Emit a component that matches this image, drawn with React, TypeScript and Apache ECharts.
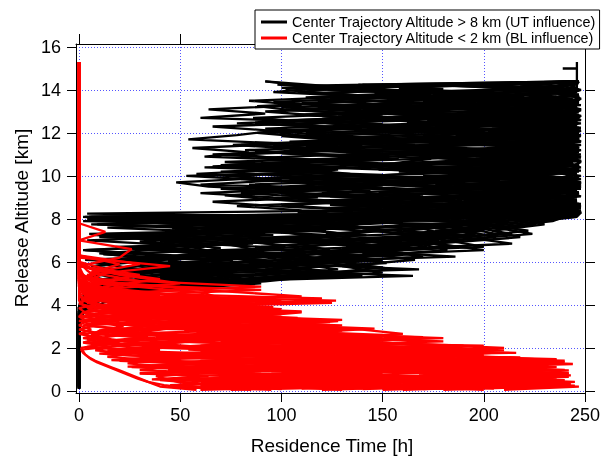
import React, { useEffect, useRef } from 'react';
import * as echarts from 'echarts';

// ---------- tick labels / names ----------
const X_TICKS = [0, 50, 100, 150, 200, 250];
const Y_TICKS = [0, 2, 4, 6, 8, 10, 12, 14, 16];
const NAME_UT = 'Center Trajectory Altitude > 8 km (UT influence)';
const NAME_BL = 'Center Trajectory Altitude < 2 km (BL influence)';

// ---------- release altitudes [km] ----------
const ALT_UT_A = [0.1, 2.0, 3.0, 3.6, 4.1, 4.5, 4.9, 5.2, 5.5, 5.8, 6.1, 6.4, 6.7, 7.0, 7.3, 7.6, 7.9,
  8.1, 8.3, 8.5, 8.7, 8.9, 9.1, 9.3, 9.5, 9.7, 9.9, 10.1, 10.3, 10.5, 10.7, 10.9, 11.1, 11.3, 11.5, 11.7, 11.9,
  12.1, 12.3, 12.5, 12.7, 12.9, 13.1, 13.3, 13.5, 13.7, 13.9, 14.1, 14.4];
const ALT_UT_B = [0.2, 2.0, 3.1, 3.7, 4.2, 4.6, 5.0, 5.35, 5.65, 5.95, 6.25, 6.55, 6.85, 7.15, 7.45, 7.75, 8.0,
  8.2, 8.4, 8.6, 8.8, 9.0, 9.2, 9.4, 9.6, 9.8, 10.0, 10.2, 10.4, 10.6, 10.8, 11.0, 11.2, 11.4, 11.6, 11.8, 12.0,
  12.2, 12.4, 12.6, 12.8, 13.0, 13.2, 13.4, 13.6, 13.8, 14.0, 14.2, 14.4];
const ALT_UT_C = [0.15, 2.0, 3.3, 3.9, 4.35, 4.75, 5.1, 5.45, 5.75, 6.05, 6.35, 6.65, 6.95, 7.25, 7.55, 7.85, 8.1,
  8.25, 8.45, 8.65, 8.85, 9.05, 9.25, 9.45, 9.65, 9.85, 10.05, 10.25, 10.45, 10.65, 10.85, 11.05, 11.25, 11.45, 11.65, 11.85, 12.05,
  12.25, 12.45, 12.65, 12.85, 13.05, 13.25, 13.45, 13.65, 13.85, 14.05, 14.25, 14.4];
const ALT_UT_TOP = [14.4, 15.0, 15.0, 15.0, 15.3];
const ALT_BL_A = [0.05, 0.2, 0.35, 0.5, 0.65, 0.8, 0.95, 1.1, 1.25, 1.4, 1.55, 1.7, 1.85, 2.0, 2.2, 2.4, 2.6, 2.8,
  3.0, 3.2, 3.4, 3.6, 3.8, 4.0, 4.2, 4.4, 4.7, 5.0, 5.4, 5.8, 6.2, 6.6, 7.0, 7.4, 7.8, 15.3];
const ALT_BL_B = [0.1, 0.27, 0.42, 0.57, 0.72, 0.87, 1.02, 1.17, 1.32, 1.47, 1.62, 1.77, 1.92, 2.1, 2.3, 2.5, 2.7, 2.9,
  3.1, 3.3, 3.5, 3.7, 3.9, 4.1, 4.3, 4.55, 4.85, 5.2, 5.6, 6.0, 6.4, 6.8, 7.2, 7.6, 8.0, 15.3];
const ALT_BL_C = [0.08, 0.24, 0.38, 0.53, 0.68, 0.83, 0.98, 1.13, 1.28, 1.43, 1.58, 1.73, 1.88, 2.05, 2.25, 2.45, 2.65, 2.85,
  3.05, 3.25, 3.45, 3.65, 3.85, 4.05, 4.25, 4.45, 4.75, 5.1, 5.5, 5.9, 6.3, 6.7, 7.1, 7.5, 7.9, 15.3];

// ---------- residence times [h], UT-influenced trajectories ----------
const UT_A1 = [0, 0, 0, 0, 2, 6, 14, 30, 22, 48, 36, 70, 55, 96, 80, 118, 100,
  238, 246, 210, 244, 190, 232, 160, 220, 248, 200, 236, 175, 226, 246, 198, 240, 150, 214, 247, 230, 186, 244, 208, 160, 236, 248, 220, 190, 244, 232, 246, 246];
const UT_A2 = [0, 0, 0, 1, 8, 20, 44, 62, 40, 86, 60, 112, 90, 140, 122, 170, 150,
  5, 220, 248, 180, 140, 206, 242, 170, 120, 196, 230, 148, 246, 212, 180, 132, 240, 204, 166, 244, 220, 126, 190, 236, 170, 140, 210, 246, 180, 150, 100, 246];
const UT_A3 = [0, 0, 0, 0, 3, 10, 25, 18, 52, 34, 76, 58, 102, 84, 130, 108, 160,
  200, 246, 180, 130, 96, 72, 110, 64, 48, 90, 58, 100, 70, 120, 62, 84, 56, 104, 54, 78, 96, 66, 130, 60, 92, 64, 110, 84, 140, 96, 120, 92];
const UT_A4 = [0, 0, 0, 2, 12, 30, 60, 92, 120, 104, 146, 128, 172, 150, 196, 176, 210,
  246, 248, 236, 247, 222, 245, 240, 248, 228, 246, 215, 244, 247, 232, 248, 238, 246, 224, 247, 242, 248, 230, 246, 244, 236, 248, 226, 245, 247, 240, null, null];
const UT_A5 = [0, 0, 0, 0, 1, 4, 10, 24, 16, 38, 28, 58, 44, 82, 66, 104, 88,
  236, 190, 150, 212, 176, 130, 228, 186, 146, 104, 170, 208, 136, 184, 236, 160, 118, 196, 152, 224, 180, 140, 204, 246, 166, 128, 190, 154, 220, 176, 138, 246];
const UT_A6 = [0, 0, 0, 0, 4, 14, 34, 80, 60, 124, 98, 150, 132, 178, 160, 200, 186,
  3, 200, 240, 216, 246, 190, 226, 244, 204, 172, 236, 247, 214, 184, 240, 226, 246, 196, 230, 248, 210, 176, 238, 246, 222, 200, 244, 230, 208, 246, 236, 247];
const UT_A7 = [0, 0, 0, 1, 6, 16, 48, 100, 150, 130, 166, 140, 184, 164, 206, 190, 220,
  244, 248, 240, 246, 236, 247, 230, 244, 248, 238, 246, 226, 245, 248, 240, 234, 247, 244, 236, 248, 228, 246, 242, 247, 233, 248, 240, 246, null, null, null, null];
const UT_A8 = [0, 0, 0, 0, 2, 8, 22, 12, 34, 6, 40, 10, 62, 4, 92, 14, 120,
  196, 108, 150, 126, 186, 100, 144, 118, 172, 92, 134, 110, 168, 124, 150, 98, 186, 130, 162, 112, 176, 140, 118, 190, 150, 128, 170, 200, 146, 180, 160, 246];
const UT_A9 = [0, 0, 0, 0, 5, 18, 52, 96, 130, 100, 142, 116, 188, 160, 214, 196, 228,
  246, 214, 186, 240, 206, 232, 176, 218, 198, 247, 184, 234, 206, 248, 226, 190, 244, 214, 176, 236, 202, 246, 222, 188, 240, 208, 248, 226, 194, 246, 212, 247];
const UT_A10 = [0, 0, 0, 1, 3, 11, 30, 70, 54, 94, 120, 106, 160, 140, 180, 168, 204,
  6, 232, 206, 248, 222, 190, 246, 234, 207, 241, 218, 245, 194, 237, 208, 247, 228, 200, 243, 216, 186, 239, 224, 247, 204, 232, 246, 215, null, null, null, null];
const UT_A11 = [0, 0, 0, 0, 7, 24, 40, 56, 98, 78, 134, 116, 200, 182, 224, 206, 234,
  240, 176, 130, 156, 96, 122, 84, 140, 110, 160, 96, 128, 74, 112, 150, 90, 132, 106, 170, 124, 94, 146, 116, 86, 138, 102, 160, 118, 142, 108, 132, 246];
const UT_A12 = [0, 0, 0, 0, 2, 5, 16, 42, 8, 66, 3, 92, 18, 120, 5, 146, 2,
  226, 160, 120, 180, 144, 210, 166, 124, 190, 156, 220, 176, 138, 200, 168, 246, 188, 150, 212, 174, 136, 198, 162, 230, 184, 148, 206, 170, 236, 192, 158, null];

const UT_B1 = [0, 0, 0, 0, 4, 12, 36, 165, 76, 118, 96, 160, 134, 194, 176, 212, 200,
  246, 218, 244, 200, 237, 178, 231, 207, 246, 186, 229, 216, 244, 196, 246, 218, 238, 190, 226, 247, 204, 234, 182, 240, 212, 246, 198, 230, 244, 210, 240, 247];
const UT_B2 = [0, 0, 0, 1, 9, 22, 90, 40, 115, 66, 142, 102, 180, 156, 200, 172, 226,
  232, 196, 238, 186, 140, 110, 70, 152, 94, 53, 124, 86, 142, 108, 66, 130, 96, 170, 136, 112, 188, 146, 120, 174, 132, 200, 160, 128, 186, 150, null, null];
const UT_B3 = [0, 0, 0, 0, 2, 8, 18, 56, 168, 90, 72, 124, 108, 166, 148, 190, 176,
  244, 247, 226, 246, 240, 247, 222, 245, 238, 248, 231, 247, 242, 246, 238, 247, 230, 248, 244, 236, 247, 226, 245, 248, 240, 246, 234, 247, 242, 248, 238, 246];
const UT_B4 = [0, 0, 0, 0, 3, 7, 24, 32, 64, 46, 98, 84, 132, 114, 150, 130, 4,
  162, 136, 196, 150, 172, 120, 192, 158, 208, 144, 180, 118, 156, 174, 138, 196, 112, 164, 140, 186, 126, 150, 104, 172, 136, 118, 160, 132, 174, 146, 120, 92];
const UT_B5 = [0, 0, 0, 2, 10, 28, 64, 120, 92, 152, 136, 182, 168, 206, 190, 226, 212,
  247, 202, 172, 214, 240, 186, 248, 210, 234, 170, 246, 222, 200, 243, 177, 236, 208, 248, 188, 230, 246, 214, 172, 240, 226, 198, 247, 218, 184, 236, 206, 246];
const UT_B6 = [0, 0, 0, 0, 1, 4, 14, 4, 30, 8, 58, 2, 86, 10, 122, 6, 150,
  224, 140, 96, 66, 118, 80, 136, 60, 100, 76, 124, 62, 146, 100, 80, 132, 96, 158, 114, 88, 140, 104, 168, 120, 92, 150, 110, 176, 130, 102, null, null];
const UT_B7 = [0, 0, 0, 1, 5, 15, 40, 86, 128, 104, 170, 146, 214, 190, 222, 200, 6,
  242, 218, 246, 228, 204, 244, 227, 194, 238, 212, 247, 226, 206, 244, 230, 246, 214, 188, 240, 224, 248, 202, 236, 246, 218, 192, 244, 228, 247, 210, 236, 246];
const UT_B8 = [0, 0, 0, 0, 3, 9, 30, 66, 52, 108, 90, 154, 128, 178, 160, 198, 184,
  240, 180, 150, 226, 196, 212, 166, 240, 188, 226, 158, 212, 186, 234, 156, 210, 246, 176, 222, 198, 148, 236, 204, 168, 244, 190, 226, 160, 214, 246, 182, 246];
const UT_B9 = [0, 0, 0, 0, 2, 6, 22, 140, 110, 84, 186, 130, 160, 120, 200, 176, 210,
  236, 248, 208, 236, 182, 224, 200, 246, 216, 188, 238, 166, 244, 214, 248, 196, 228, 180, 246, 210, 238, 190, 222, 247, 202, 234, 176, 244, 218, null, null, null];
const UT_B10 = [0, 0, 0, 1, 6, 18, 50, 100, 156, 132, 120, 200, 176, 218, 204, 230, 220,
  246, 236, 248, 230, 246, 218, 238, 248, 226, 244, 236, 248, 232, 246, 240, 248, 228, 245, 247, 238, 246, 230, 248, 242, 247, 236, 245, 248, 240, 247, 244, 245];
const UT_B11 = [0, 0, 0, 0, 4, 10, 28, 48, 36, 70, 54, 88, 72, 116, 98, 138, 124,
  170, 110, 78, 134, 96, 60, 112, 84, 146, 102, 70, 126, 90, 158, 114, 82, 140, 104, 176, 128, 92, 150, 116, 190, 138, 100, 164, 124, 206, 150, 112, 246];
const UT_B12 = [0, 0, 0, 0, 2, 7, 20, 5, 26, 12, 44, 3, 64, 20, 86, 9, 108,
  210, 246, 190, 224, 168, 238, 200, 176, 244, 214, 186, 232, 160, 246, 208, 180, 228, 152, 242, 198, 170, 236, 212, 184, 246, 196, 164, 222, 190, 240, 204, 247];

const UT_C1 = [0, 0, 0, 0, 3, 20, 60, 10, 88, 30, 110, 20, 96, 8, 130, 40, 2,
  236, 212, 246, 190, 228, 244, 170, 216, 240, 200, 248, 222, 184, 238, 210, 246, 192, 230, 248, 176, 214, 240, 200, 236, 162, 244, 220, 196, 240, 226, 246, 247];
const UT_C2 = [0, 0, 0, 0, 6, 34, 80, 52, 20, 70, 12, 100, 40, 124, 60, 150, 90,
  180, 130, 100, 160, 124, 200, 150, 112, 176, 136, 94, 150, 120, 188, 142, 104, 166, 130, 212, 160, 118, 180, 144, 108, 170, 128, 196, 150, 116, 176, 138, null];
const UT_C3 = [0, 0, 0, 1, 10, 40, 92, 130, 64, 150, 84, 170, 110, 190, 140, 212, 180,
  246, 226, 247, 238, 244, 212, 246, 236, 248, 220, 242, 247, 230, 246, 204, 240, 248, 226, 244, 236, 247, 218, 246, 240, 248, 228, 244, 247, 236, 246, 242, 246];
const UT_C4 = [0, 0, 0, 0, 2, 16, 44, 24, 66, 14, 88, 36, 60, 18, 104, 30, 70,
  150, 220, 176, 130, 196, 148, 236, 180, 120, 210, 166, 138, 190, 228, 150, 116, 200, 170, 240, 186, 140, 214, 174, 128, 206, 160, 232, 188, 146, 218, 170, 246];
const UT_C5 = [0, 0, 0, 0, 4, 26, 70, 110, 46, 128, 76, 156, 98, 176, 124, 196, 150,
  222, 244, 196, 232, 210, 247, 180, 226, 246, 204, 170, 236, 212, 248, 188, 224, 244, 202, 236, 166, 230, 246, 208, 186, 240, 220, 247, 198, 232, 212, 244, 246];
const UT_C6 = [0, 0, 0, 0, 1, 10, 30, 6, 48, 16, 72, 26, 90, 10, 112, 22, 5,
  210, 168, 124, 186, 140, 98, 150, 118, 80, 136, 104, 66, 124, 92, 146, 110, 76, 130, 100, 158, 120, 88, 140, 112, 170, 132, 96, 154, 120, 180, 140, 246];
const UT_C7 = [0, 0, 0, 1, 8, 30, 76, 120, 150, 106, 164, 130, 186, 160, 204, 184, 226,
  247, 232, 246, 222, 248, 240, 228, 247, 236, 246, 214, 244, 248, 230, 246, 238, 224, 247, 240, 246, 232, 248, 220, 244, 246, 236, 247, 228, null, null, null, null];
const UT_C8 = [0, 0, 0, 0, 3, 12, 36, 76, 40, 96, 60, 118, 80, 142, 100, 160, 120,
  4, 190, 228, 164, 206, 246, 180, 140, 214, 186, 238, 160, 200, 176, 226, 150, 192, 232, 170, 210, 248, 184, 152, 220, 196, 170, 236, 204, 180, 226, 200, 246];
const UT_C9 = [0, 0, 0, 0, 5, 22, 50, 28, 80, 44, 66, 20, 92, 50, 116, 70, 140,
  198, 240, 216, 246, 228, 192, 238, 210, 246, 224, 200, 242, 230, 176, 220, 246, 206, 236, 186, 244, 218, 198, 232, 247, 212, 240, 226, 194, 236, 244, 218, 246];
const UT_C10 = [0, 0, 0, 0, 2, 8, 20, 60, 34, 92, 54, 70, 30, 96, 46, 120, 64,
  246, 200, 156, 118, 170, 136, 92, 128, 104, 150, 84, 118, 72, 140, 100, 130, 80, 162, 112, 96, 136, 78, 120, 150, 106, 88, 134, 112, 160, 126, 98, null];
const UT_TOP = [246, 246, 239, 246, 246];

// ---------- residence times [h], BL-influenced trajectories ----------
const BL_A1 = [60, 120, 180, 150, 206, 168, 214, 140, 96, 160, 120, 176, 130, 96, 120, 70, 88, 52, 76, 40, 58, 30, 44, 22, 36, 10, 4, 0, 0, 0, 0, 0, 0, 0, 0, 0];
const BL_A2 = [210, 247, 160, 220, 130, 242, 175, 236, 190, 240, 150, 200, 120, 172, 110, 150, 92, 110, 64, 80, 50, 70, 36, 54, 18, 8, 3, 0, 0, 0, 0, 0, 0, 0, 0, 0];
const BL_A3 = [95, 60, 110, 70, 140, 90, 60, 100, 45, 120, 72, 30, 96, 52, 24, 80, 38, 14, 60, 30, 48, 20, 40, 12, 30, 6, 2, 12, 4, 45, 0, 0, 0, 0, 0, 0];
const BL_A4 = [150, 200, 243, 205, 180, 236, 150, 120, 200, 160, 130, 96, 150, 118, 74, 104, 62, 90, 56, 80, 44, 70, 100, 62, 127, 40, 12, 5, 0, 0, 0, 0, 0, 0, 0, 0];
const BL_A5 = [58, 40, 36, 32, 28, 24, 20, 16, 12, 8, 5, 3, 2, 1, 14, 4, 22, 10, 34, 6, 28, 16, 50, 20, 36, 110, 60, 20, 0, 0, 0, 0, 0, 0, 0, 0];
const BL_A6 = [120, 170, 90, 130, 75, 150, 110, 50, 130, 80, 100, 34, 80, 56, 22, 60, 40, 14, 52, 30, 8, 36, 20, 48, 24, 8, 90, 4, 0, 0, 0, 0, 0, 0, 0, 0];
const BL_A7 = [180, 230, 200, 240, 190, 216, 242, 155, 210, 175, 218, 132, 200, 105, 138, 88, 120, 100, 80, 60, 96, 24, 70, 40, 100, 18, 8, 3, 1, 0, 20, 26, 0, 0, 0, 0];
const BL_A8 = [75, 140, 100, 180, 120, 95, 160, 70, 140, 60, 110, 85, 60, 140, 65, 110, 50, 90, 36, 70, 30, 56, 12, 40, 6, 20, 2, 0, 0, 0, 0, 0, 0, 0, 0, 0];
const BL_A9 = [130, 100, 150, 110, 165, 125, 190, 90, 150, 70, 120, 62, 90, 40, 76, 50, 120, 98, 72, 124, 60, 100, 42, 80, 30, 60, 10, 4, 2, 0, 0, 0, 0, 0, 0, 0];
const BL_A10 = [200, 160, 215, 185, 242, 200, 230, 188, 244, 200, 218, 150, 190, 175, 120, 160, 90, 130, 70, 100, 55, 80, 40, 66, 18, 30, 8, 50, 20, 0, 0, 0, 0, 13, 0, 0];
const BL_A11 = [85, 44, 60, 40, 90, 30, 70, 26, 60, 20, 48, 14, 40, 8, 30, 16, 6, 10, 22, 8, 30, 16, 6, 2, 0, 0, 0, 0, 0, 0, 0, 0, 0, 0, 0, 0];
const BL_A12 = [160, 210, 140, 188, 228, 170, 200, 130, 176, 226, 160, 196, 140, 210, 160, 110, 150, 96, 120, 84, 108, 60, 90, 70, 46, 30, 12, 6, 30, 0, 0, 0, 0, 0, 0, 0];

const BL_B1 = [110, 160, 210, 170, 236, 190, 220, 165, 240, 190, 140, 200, 110, 180, 128, 150, 84, 120, 66, 98, 48, 80, 30, 60, 14, 40, 5, 0, 0, 0, 0, 0, 0, 0, 0, 0];
const BL_B2 = [70, 45, 90, 60, 105, 48, 80, 36, 64, 28, 50, 20, 40, 16, 60, 30, 8, 44, 20, 36, 3, 24, 12, 30, 8, 3, 1, 0, 0, 0, 0, 0, 0, 0, 0, 0];
const BL_B3 = [160, 243, 190, 232, 175, 205, 140, 230, 178, 120, 200, 96, 160, 70, 104, 140, 58, 100, 44, 120, 70, 92, 50, 110, 120, 26, 10, 4, 0, 0, 0, 0, 0, 0, 0, 0];
const BL_B4 = [64, 95, 130, 88, 150, 112, 170, 130, 100, 150, 82, 120, 60, 100, 46, 76, 120, 36, 80, 20, 62, 40, 96, 28, 70, 62, 28, 6, 16, 0, 0, 0, 0, 0, 0, 0];
const BL_B5 = [140, 110, 75, 125, 92, 140, 106, 180, 90, 175, 120, 84, 150, 60, 90, 110, 70, 130, 50, 80, 24, 100, 60, 30, 8, 18, 3, 0, 0, 0, 0, 0, 0, 0, 0, 0];
const BL_B6 = [96, 200, 150, 120, 210, 160, 120, 198, 144, 100, 186, 128, 88, 200, 70, 100, 80, 136, 52, 90, 30, 70, 12, 40, 8, 20, 12, 40, 8, 0, 0, 0, 0, 0, 0, 0];
const BL_B7 = [180, 130, 100, 160, 135, 100, 150, 115, 190, 80, 140, 92, 54, 150, 80, 38, 110, 58, 26, 90, 12, 60, 4, 30, 1, 10, 0, 0, 0, 0, 0, 0, 0, 0, 0, 0];
const BL_B8 = [58, 42, 34, 29, 25, 21, 17, 13, 9, 6, 4, 2, 1, 20, 10, 34, 18, 42, 26, 12, 34, 10, 48, 20, 4, 2, 0, 0, 0, 0, 0, 0, 0, 0, 0, 0];
const BL_B9 = [205, 175, 228, 200, 240, 170, 146, 188, 238, 160, 126, 216, 150, 104, 180, 120, 82, 98, 116, 46, 86, 18, 66, 30, 6, 2, 0, 0, 0, 0, 0, 0, 0, 0, 0, 0];
const BL_B10 = [120, 80, 60, 100, 70, 120, 60, 140, 44, 86, 50, 110, 74, 36, 54, 96, 28, 44, 70, 18, 40, 8, 20, 4, 10, 18, 90, 10, 4, 0, 0, 0, 0, 0, 0, 0];
const BL_B11 = [90, 150, 110, 190, 142, 176, 130, 210, 150, 104, 190, 150, 74, 96, 136, 84, 64, 120, 48, 90, 28, 70, 10, 50, 24, 6, 20, 3, 8, 0, 0, 0, 0, 0, 0, 0];
const BL_B12 = [180, 220, 245, 200, 243, 210, 170, 232, 190, 236, 176, 204, 160, 190, 130, 170, 110, 146, 90, 130, 70, 110, 50, 125, 30, 16, 6, 0, 0, 0, 0, 0, 0, 0, 0, 0];

const BL_C1 = [62, 80, 120, 90, 150, 110, 180, 130, 160, 100, 140, 80, 120, 60, 30, 8, 2, 20, 4, 40, 10, 2, 24, 6, 1, 30, 4, 0, 0, 0, 0, 0, 0, 0, 0, 0];
const BL_C2 = [190, 140, 226, 180, 238, 200, 160, 224, 180, 236, 200, 150, 210, 160, 110, 180, 120, 90, 130, 60, 100, 40, 80, 20, 60, 10, 2, 0, 0, 0, 0, 0, 0, 0, 0, 0];
const BL_C3 = [100, 60, 90, 50, 120, 76, 44, 100, 60, 30, 80, 40, 20, 50, 10, 36, 6, 28, 2, 18, 0, 12, 4, 22, 8, 40, 16, 30, 6, 20, 0, 0, 0, 0, 0, 0];
const BL_C4 = [140, 190, 160, 230, 200, 242, 186, 220, 170, 200, 140, 180, 110, 150, 90, 120, 70, 100, 40, 66, 20, 44, 8, 30, 2, 14, 60, 8, 0, 0, 0, 0, 0, 0, 0, 0];
const BL_C5 = [80, 110, 70, 140, 96, 60, 120, 84, 50, 100, 30, 70, 14, 40, 4, 60, 20, 90, 30, 2, 50, 16, 70, 28, 96, 44, 6, 0, 0, 0, 0, 0, 0, 0, 0, 0];
const BL_C6 = [170, 210, 186, 150, 200, 170, 140, 190, 226, 160, 130, 170, 196, 140, 100, 160, 130, 80, 110, 70, 96, 50, 76, 36, 60, 20, 4, 0, 0, 0, 0, 0, 0, 0, 0, 0];
const BL_C7 = [66, 46, 80, 36, 64, 30, 90, 24, 56, 16, 40, 10, 30, 4, 20, 2, 12, 0, 8, 0, 16, 3, 0, 10, 2, 0, 12, 3, 6, 30, 0, 0, 0, 0, 0, 0];
const BL_C8 = [120, 160, 130, 200, 150, 120, 170, 140, 110, 150, 120, 90, 130, 100, 70, 110, 86, 60, 90, 50, 70, 30, 56, 14, 40, 6, 1, 0, 0, 0, 0, 0, 0, 0, 0, 0];
const BL_C9 = [210, 245, 200, 236, 210, 180, 240, 200, 160, 230, 190, 170, 205, 180, 150, 120, 160, 140, 100, 128, 84, 110, 60, 90, 40, 20, 5, 0, 0, 0, 0, 0, 0, 0, 0, 0];
const BL_C10 = [90, 70, 50, 44, 38, 60, 30, 44, 24, 36, 14, 26, 8, 16, 2, 10, 0, 6, 0, 4, 0, 2, 10, 0, 4, 0, 2, 0, 10, 0, 0, 0, 0, 0, 0, 0];

const UT_GROUP_A = [UT_A1, UT_A2, UT_A3, UT_A4, UT_A5, UT_A6, UT_A7, UT_A8, UT_A9, UT_A10, UT_A11, UT_A12];
const UT_GROUP_B = [UT_B1, UT_B2, UT_B3, UT_B4, UT_B5, UT_B6, UT_B7, UT_B8, UT_B9, UT_B10, UT_B11, UT_B12];
const UT_GROUP_C = [UT_C1, UT_C2, UT_C3, UT_C4, UT_C5, UT_C6, UT_C7, UT_C8, UT_C9, UT_C10];
const BL_GROUP_A = [BL_A1, BL_A2, BL_A3, BL_A4, BL_A5, BL_A6, BL_A7, BL_A8, BL_A9, BL_A10, BL_A11, BL_A12];
const BL_GROUP_B = [BL_B1, BL_B2, BL_B3, BL_B4, BL_B5, BL_B6, BL_B7, BL_B8, BL_B9, BL_B10, BL_B11, BL_B12];
const BL_GROUP_C = [BL_C1, BL_C2, BL_C3, BL_C4, BL_C5, BL_C6, BL_C7, BL_C8, BL_C9, BL_C10];

const FONT = '"Liberation Sans", Arial, Helvetica, sans-serif';
const LINE_W = 2.3;

function toPoints(times: (number | null)[], alts: number[]) {
  const pts: number[][] = [];
  times.forEach((t, i) => {
    if (t !== null && t !== undefined) pts.push([t, alts[i]]);
  });
  return pts;
}

function lineSeries(name: string, color: string, times: (number | null)[], alts: number[]) {
  return {
    type: 'line',
    name,
    data: toPoints(times, alts),
    showSymbol: false,
    symbol: 'none',
    silent: true,
    color,
    itemStyle: { color },
    lineStyle: { color, width: LINE_W },
    xAxisIndex: 0,
    yAxisIndex: 0,
  };
}

export default function App() {
  const ref = useRef<HTMLDivElement>(null);

  useEffect(() => {
    document.body.style.margin = '0';
    const chart = echarts.init(ref.current!, undefined, { renderer: 'svg' });

    const series: any[] = [];
    UT_GROUP_A.forEach((p) => series.push(lineSeries(NAME_UT, '#000000', p, ALT_UT_A)));
    UT_GROUP_B.forEach((p) => series.push(lineSeries(NAME_UT, '#000000', p, ALT_UT_B)));
    UT_GROUP_C.forEach((p) => series.push(lineSeries(NAME_UT, '#000000', p, ALT_UT_C)));
    series.push(lineSeries(NAME_UT, '#000000', UT_TOP, ALT_UT_TOP));
    BL_GROUP_A.forEach((p) => series.push(lineSeries(NAME_BL, '#ff0000', p, ALT_BL_A)));
    BL_GROUP_B.forEach((p) => series.push(lineSeries(NAME_BL, '#ff0000', p, ALT_BL_B)));
    BL_GROUP_C.forEach((p) => series.push(lineSeries(NAME_BL, '#ff0000', p, ALT_BL_C)));

    const axisLineStyle = { color: '#000', width: 1 };
    const gridLine = { show: true, lineStyle: { color: '#5555ff', width: 1, type: [1, 2] } };

    chart.setOption({
      animation: false,
      textStyle: { fontFamily: FONT },
      grid: { left: 76, right: 19, top: 44, bottom: 68, containLabel: false },
      xAxis: [
        {
          type: 'value', position: 'bottom', min: -1.5, max: 250, minInterval: 50, maxInterval: 50,
          axisLine: { show: true, onZero: false, lineStyle: axisLineStyle },
          axisTick: { show: true, inside: false, length: 9, customValues: X_TICKS, lineStyle: axisLineStyle },
          axisLabel: { customValues: X_TICKS, fontSize: 18, color: '#000', margin: 13, fontFamily: FONT },
          splitLine: gridLine,
        },
        {
          type: 'value', position: 'top', min: -1.5, max: 250, minInterval: 50, maxInterval: 50,
          axisLine: { show: true, onZero: false, lineStyle: axisLineStyle },
          axisTick: { show: true, inside: false, length: 10, customValues: X_TICKS, lineStyle: axisLineStyle },
          axisLabel: { show: false },
          splitLine: { show: false },
        },
      ],
      yAxis: [
        {
          type: 'value', position: 'left', min: -0.1, max: 16.14, minInterval: 2, maxInterval: 2,
          axisLine: { show: true, onZero: false, lineStyle: axisLineStyle },
          axisTick: { show: true, inside: false, length: 9, customValues: Y_TICKS, lineStyle: axisLineStyle },
          axisLabel: { customValues: Y_TICKS, fontSize: 18, color: '#000', margin: 15, fontFamily: FONT },
          splitLine: gridLine,
        },
        {
          type: 'value', position: 'right', min: -0.1, max: 16.14, minInterval: 2, maxInterval: 2,
          axisLine: { show: true, onZero: false, lineStyle: axisLineStyle },
          axisTick: { show: true, inside: false, length: 10, customValues: Y_TICKS, lineStyle: axisLineStyle },
          axisLabel: { show: false },
          splitLine: { show: false },
        },
      ],
      legend: {
        show: true,
        data: [NAME_UT, NAME_BL],
        orient: 'vertical',
        left: 255,
        top: 10,
        padding: [5, 3, 4, 6],
        itemGap: 2,
        itemWidth: 26,
        itemHeight: 3,
        icon: 'rect',
        selectedMode: false,
        backgroundColor: '#ffffff',
        borderColor: '#000',
        borderWidth: 1,
        borderRadius: 0,
        textStyle: { fontSize: 14.4, color: '#000', fontFamily: FONT, lineHeight: 14 },
        z: 10,
      },
      graphic: [
        {
          type: 'text', x: 332, y: 445, z: 10,
          style: { text: 'Residence Time [h]', fontSize: 19, fill: '#000', fontFamily: FONT, textAlign: 'center', textVerticalAlign: 'middle' },
        },
        {
          type: 'text', x: 21, y: 218, rotation: Math.PI / 2, z: 10,
          style: { text: 'Release Altitude [km]', fontSize: 19, fill: '#000', fontFamily: FONT, textAlign: 'center', textVerticalAlign: 'middle' },
        },
      ],
      series,
    });

    return () => chart.dispose();
  }, []);

  return <div ref={ref} style={{ position: 'fixed', left: 0, top: 0, width: 604, height: 461 }} />;
}
